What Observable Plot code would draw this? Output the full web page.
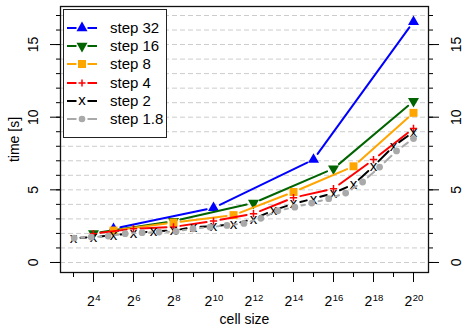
<!DOCTYPE html>
<html><head><meta charset="utf-8">
<script src="https://cdn.jsdelivr.net/npm/d3@7"></script>
<script src="https://cdn.jsdelivr.net/npm/@observablehq/plot@0.6"></script>
<style>
html,body{margin:0;padding:0;background:#fff;}
#wrap{position:relative;width:465px;height:328px;overflow:hidden;font-family:"Liberation Sans",Arial,Helvetica,sans-serif;}
#legend{position:absolute;left:63px;top:9px;width:104px;height:129px;border:1px solid #222;background:#fff;box-sizing:border-box;padding-top:9px;}
.row{display:flex;align-items:center;height:18.2px;}
.row svg{margin-left:3px;flex:none;}
.row span{margin-left:13px;font-size:15px;color:#000;line-height:18px;white-space:nowrap;}
</style></head><body><div id="wrap"></div>
<script>
// ---- data ----
const seriesNames = ["step 32", "step 16", "step 8", "step 4", "step 2", "step 1.8"];

const step32Size = [32, 1024, 32768, 1048576];
const step32Time = [2.32, 3.76, 7.08, 16.57];

const step16Size = [16, 256, 4096, 65536, 1048576];
const step16Time = [2.0, 2.85, 4.09, 6.46, 11.1];

const step8Size = [32, 256, 2048, 16384, 131072, 1048576];
const step8Time = [2.2, 2.75, 3.26, 4.85, 6.62, 10.3];

const step4Size = [16, 64, 256, 1024, 4096, 16384, 65536, 262144, 1048576];
const step4Time = [1.98, 2.32, 2.45, 2.85, 3.36, 4.46, 5.08, 7.08, 9.22];

const step2Size = [8, 16, 32, 64, 128, 256, 512, 1024, 2048, 4096, 8192, 16384, 32768, 65536, 131072, 262144, 524288, 1048576];
const step2Time = [1.68, 1.75, 1.88, 2.03, 2.14, 2.2, 2.43, 2.5, 2.64, 3.0, 3.59, 4.05, 4.39, 4.78, 5.38, 6.62, 8.0, 8.99];

const step18Size = [8.2, 14.8, 26.6, 48.0, 86.3, 155.4, 279.8, 503.6, 906.4, 1631.6, 2936.8, 5286.2, 9515.2, 17127.4, 30829.4, 55492.9, 99887.2, 179797.0, 323634.6, 582542.2, 1048576];
const step18Time = [1.68, 1.75, 1.82, 1.98, 2.05, 2.09, 2.14, 2.32, 2.44, 2.55, 2.69, 3.04, 3.56, 3.81, 4.09, 4.39, 4.78, 5.54, 6.57, 7.68, 8.53];

const yGridValues = [0,1,2,3,4,5,6,7,8,9,10,11,12,13,14,15,16,17];
const yMajorTicks = [0, 5, 10, 15];
const xMinorExps = [3,5,7,9,11,13,15,17,19];
const xMajorExps = [4,6,8,10,12,14,16,18,20];

// ---- styles ----
const colors = ["#0000ff", "#006400", "#ffa500", "#ff0000", "#000000", "#a9a9a9"];

const sizes = [step32Size, step16Size, step8Size, step4Size, step2Size, step18Size];
const times = [step32Time, step16Time, step8Time, step4Time, step2Time, step18Time];

function points(i) { return sizes[i].map((s, j) => ({series: seriesNames[i], size: s, time: times[i][j]})); }
function segments(i) {
  const p = points(i);
  return p.slice(1).map((d, j) => ({x1: p[j].size, y1: p[j].time, x2: d.size, y2: d.time}));
}

const lineOpts = (i) => ({x1: "x1", y1: "y1", x2: "x2", y2: "y2", stroke: colors[i], strokeWidth: 2,
  headLength: 0, insetStart: 7, insetEnd: 7});

const marks = [
  Plot.ruleY(yGridValues, {stroke: "#cccccc", strokeDasharray: "5,3", strokeWidth: 1})
];
marks.push(Plot.arrow(segments(0), lineOpts(0)));
marks.push(Plot.dot(points(0), {x: "size", y: "time", symbol: "triangle", r: 4.1, fill: colors[0], stroke: "none"}));
marks.push(Plot.arrow(segments(1), lineOpts(1)));
marks.push(Plot.dot(points(1), {x: "size", y: "time", symbol: "triangle", rotate: 180, r: 4.1, fill: colors[1], stroke: "none"}));
marks.push(Plot.arrow(segments(2), lineOpts(2)));
marks.push(Plot.dot(points(2), {x: "size", y: "time", symbol: "square", r: 4.5, fill: colors[2], stroke: "none"}));
marks.push(Plot.arrow(segments(3), lineOpts(3)));
marks.push(Plot.dot(points(3), {x: "size", y: "time", symbol: "plus", r: 2.5, stroke: colors[3], strokeWidth: 1.5, fill: "none"}));
marks.push(Plot.arrow(segments(4), lineOpts(4)));
marks.push(Plot.text(points(4), {x: "size", y: "time", text: () => "x", fontSize: 15, fill: colors[4], lineAnchor: "middle", textAnchor: "middle"}));
marks.push(Plot.arrow(segments(5), lineOpts(5)));
marks.push(Plot.dot(points(5), {x: "size", y: "time", symbol: "circle", r: 3.4, fill: colors[5], stroke: "none"}));

// frame & axes
marks.push(Plot.frame({stroke: "#111", strokeWidth: 1.3}));
marks.push(Plot.axisY({anchor: "left", ticks: yGridValues, tickSize: 4, tickFormat: () => "", label: null}));
marks.push(Plot.axisY({anchor: "left", ticks: yMajorTicks, tickSize: 10, tickFormat: () => "", label: null}));
marks.push(Plot.axisY({anchor: "right", ticks: yGridValues, tickSize: 4, tickFormat: () => "", label: null}));
marks.push(Plot.axisY({anchor: "right", ticks: yMajorTicks, tickSize: 10, tickFormat: () => "", label: null}));
marks.push(Plot.axisX({anchor: "bottom", ticks: xMinorExps.map(e => 2 ** e), tickSize: 5, tickFormat: () => "", label: null}));
marks.push(Plot.axisX({anchor: "bottom", ticks: xMajorExps.map(e => 2 ** e), tickSize: 10, tickFormat: () => "", label: null}));

// y tick labels (rotated, both sides)
marks.push(Plot.text(yMajorTicks, {y: d => d, text: d => String(d), frameAnchor: "left", dx: -27, rotate: -90, fontSize: 14, textAnchor: "middle", lineAnchor: "middle"}));
marks.push(Plot.text(yMajorTicks, {y: d => d, text: d => String(d), frameAnchor: "right", dx: 28, rotate: -90, fontSize: 14, textAnchor: "middle", lineAnchor: "middle"}));

// x tick labels 2^n
const oneDigit = xMajorExps.filter(e => e < 10);
const twoDigit = xMajorExps.filter(e => e >= 10);
marks.push(Plot.text(oneDigit, {x: e => 2 ** e, text: () => "2", frameAnchor: "bottom", dy: 33, dx: 1.4, textAnchor: "end", lineAnchor: "bottom", fontSize: 14}));
marks.push(Plot.text(oneDigit, {x: e => 2 ** e, text: e => String(e), frameAnchor: "bottom", dy: 28, dx: 1.8, textAnchor: "start", lineAnchor: "bottom", fontSize: 9.5}));
marks.push(Plot.text(twoDigit, {x: e => 2 ** e, text: () => "2", frameAnchor: "bottom", dy: 33, dx: -1.2, textAnchor: "end", lineAnchor: "bottom", fontSize: 14}));
marks.push(Plot.text(twoDigit, {x: e => 2 ** e, text: e => String(e), frameAnchor: "bottom", dy: 28, dx: -0.8, textAnchor: "start", lineAnchor: "bottom", fontSize: 9.5}));

// axis titles
marks.push(Plot.text(["cell size"], {text: d => d, frameAnchor: "bottom", dy: 51, lineAnchor: "bottom", textAnchor: "middle", fontSize: 14}));
marks.push(Plot.text(["time [s]"], {text: d => d, frameAnchor: "left", dx: -46, rotate: -90, lineAnchor: "middle", textAnchor: "middle", fontSize: 14}));

const chart = Plot.plot({
  width: 465, height: 328,
  marginLeft: 60, marginRight: 37, marginTop: 6, marginBottom: 56,
  x: {type: "log", base: 2, domain: [2 ** 2.35, 2 ** 20.75]},
  y: {domain: [-0.69, 17.62]},
  style: {fontFamily: "'Liberation Sans', Arial, Helvetica, sans-serif", fontSize: "14px", background: "white", color: "black"},
  marks
});
const wrap = document.getElementById("wrap");
wrap.appendChild(chart);

// legend
const markerSvg = [
  `<polygon points="15,2.6 20.5,12.2 9.5,12.2" fill="${colors[0]}"/>`,
  `<polygon points="15,15.4 9.5,5.8 20.5,5.8" fill="${colors[1]}"/>`,
  `<rect x="11" y="5" width="8" height="8" fill="${colors[2]}"/>`,
  `<path d="M11.5,9H18.5M15,5.5V12.5" stroke="${colors[3]}" stroke-width="1.5"/>`,
  `<text x="15" y="12.8" text-anchor="middle" font-size="15" font-family="Liberation Sans, Arial" fill="${colors[4]}">x</text>`,
  `<circle cx="15" cy="9" r="3.3" fill="${colors[5]}"/>`
];
const legend = document.createElement("div");
legend.id = "legend";
legend.innerHTML = seriesNames.map((name, i) =>
  `<div class="row"><svg width="30" height="18" viewBox="0 0 30 18"><path d="M0,9H9.5M20.5,9H30" stroke="${colors[i]}" stroke-width="2"/>${markerSvg[i]}</svg><span>${name}</span></div>`
).join("");
wrap.appendChild(legend);
</script>
</body></html>
